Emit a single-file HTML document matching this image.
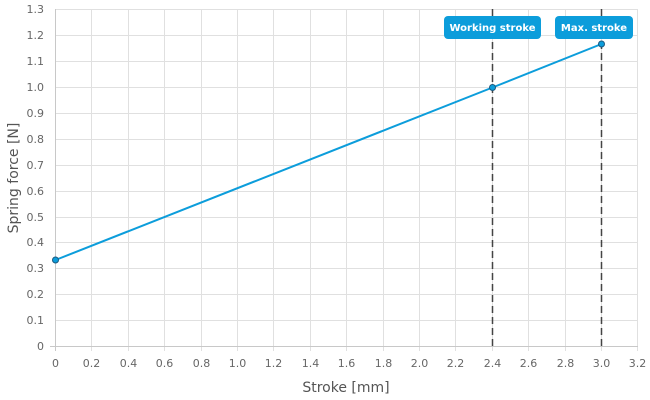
<!DOCTYPE html>
<html><head><style>body{margin:0;background:#fff}svg{display:block}</style></head><body>
<svg width="650" height="400" xmlns="http://www.w3.org/2000/svg" font-family="'DejaVu Sans','Liberation Sans',sans-serif">
<g stroke="#e0e0e0" stroke-width="1">
<line x1="55.5" y1="9.5" x2="638" y2="9.5"/><line x1="55.5" y1="35.5" x2="638" y2="35.5"/><line x1="55.5" y1="61.5" x2="638" y2="61.5"/><line x1="55.5" y1="87.5" x2="638" y2="87.5"/><line x1="55.5" y1="113.5" x2="638" y2="113.5"/><line x1="55.5" y1="139.5" x2="638" y2="139.5"/><line x1="55.5" y1="165.5" x2="638" y2="165.5"/><line x1="55.5" y1="191.5" x2="638" y2="191.5"/><line x1="55.5" y1="217.5" x2="638" y2="217.5"/><line x1="55.5" y1="242.5" x2="638" y2="242.5"/><line x1="55.5" y1="268.5" x2="638" y2="268.5"/><line x1="55.5" y1="294.5" x2="638" y2="294.5"/><line x1="55.5" y1="320.5" x2="638" y2="320.5"/>
<line x1="91.5" y1="9" x2="91.5" y2="351"/><line x1="128.5" y1="9" x2="128.5" y2="351"/><line x1="164.5" y1="9" x2="164.5" y2="351"/><line x1="201.5" y1="9" x2="201.5" y2="351"/><line x1="237.5" y1="9" x2="237.5" y2="351"/><line x1="273.5" y1="9" x2="273.5" y2="351"/><line x1="310.5" y1="9" x2="310.5" y2="351"/><line x1="346.5" y1="9" x2="346.5" y2="351"/><line x1="383.5" y1="9" x2="383.5" y2="351"/><line x1="419.5" y1="9" x2="419.5" y2="351"/><line x1="455.5" y1="9" x2="455.5" y2="351"/><line x1="492.5" y1="9" x2="492.5" y2="351"/><line x1="528.5" y1="9" x2="528.5" y2="351"/><line x1="565.5" y1="9" x2="565.5" y2="351"/><line x1="601.5" y1="9" x2="601.5" y2="351"/><line x1="637.5" y1="9" x2="637.5" y2="351"/>
</g>
<g stroke="#c8c8c8"><line x1="55.5" y1="9" x2="55.5" y2="351"/><line x1="50" y1="346.5" x2="638" y2="346.5"/></g>
<g font-size="11" fill="#666" text-anchor="end">
<text x="44" y="13">1.3</text><text x="44" y="39">1.2</text><text x="44" y="65">1.1</text><text x="44" y="91">1.0</text><text x="44" y="117">0.9</text><text x="44" y="143">0.8</text><text x="44" y="169">0.7</text><text x="44" y="195">0.6</text><text x="44" y="221">0.5</text><text x="44" y="246">0.4</text><text x="44" y="272">0.3</text><text x="44" y="298">0.2</text><text x="44" y="324">0.1</text><text x="44" y="350">0</text>
</g>
<g font-size="11" fill="#666" text-anchor="middle">
<text x="55.5" y="367">0</text><text x="91.5" y="367">0.2</text><text x="128.5" y="367">0.4</text><text x="164.5" y="367">0.6</text><text x="201.5" y="367">0.8</text><text x="237.5" y="367">1.0</text><text x="273.5" y="367">1.2</text><text x="310.5" y="367">1.4</text><text x="346.5" y="367">1.6</text><text x="383.5" y="367">1.8</text><text x="419.5" y="367">2.0</text><text x="455.5" y="367">2.2</text><text x="492.5" y="367">2.4</text><text x="528.5" y="367">2.6</text><text x="565.5" y="367">2.8</text><text x="601.5" y="367">3.0</text><text x="637.5" y="367">3.2</text>
</g>
<text x="346" y="392" font-size="14" fill="#555" text-anchor="middle">Stroke [mm]</text>
<text transform="translate(18,178) rotate(-90)" font-size="14" fill="#555" text-anchor="middle">Spring force [N]</text>
<g stroke="#444" stroke-width="1.5" stroke-dasharray="7,4"><line x1="492.5" y1="9" x2="492.5" y2="346"/><line x1="601.5" y1="9" x2="601.5" y2="346"/></g>
<polyline points="55.5,260 492.5,87.5 601.5,44" fill="none" stroke="#0c9ddb" stroke-width="2"/>
<g fill="#0c9ddb" stroke="#1a5a80" stroke-width="1"><circle cx="55.5" cy="260" r="3"/><circle cx="492.5" cy="87.5" r="3"/><circle cx="601.5" cy="44" r="3"/></g>
<rect x="444" y="16" width="97" height="23" rx="4" fill="#0c9ddb"/>
<rect x="555" y="16" width="78" height="23" rx="4" fill="#0c9ddb"/>
<g font-size="10" font-weight="bold" fill="#fff" text-anchor="middle"><text x="492.5" y="31">Working stroke</text><text x="594" y="31">Max. stroke</text></g>
</svg>
</body></html>
